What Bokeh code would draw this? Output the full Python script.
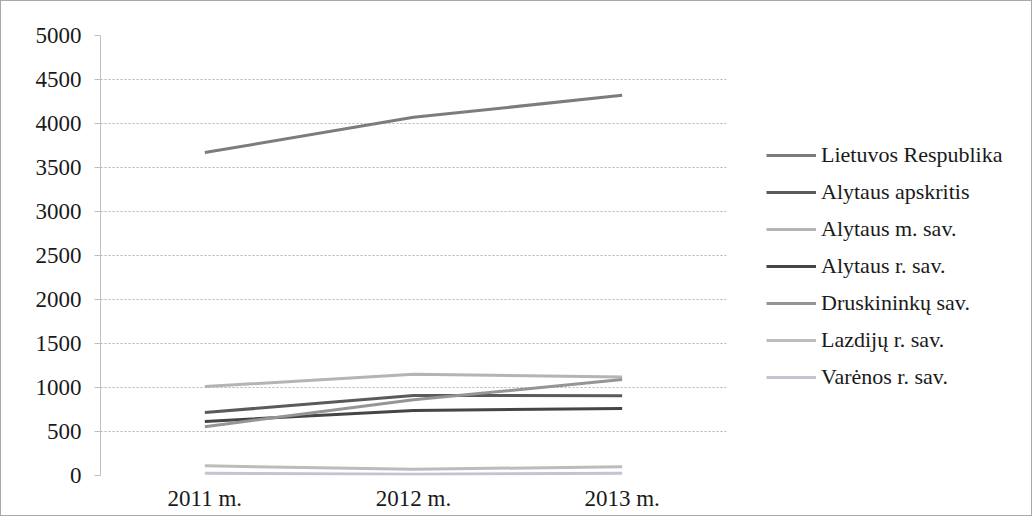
from bokeh.plotting import figure
from bokeh.layouts import row
from bokeh.models import Legend, LegendItem, FactorRange, Range1d, FixedTicker
from bokeh.embed import file_html
from bokeh.resources import INLINE

years = ["2011 m.", "2012 m.", "2013 m."]
series_names = [
    "Lietuvos Respublika",
    "Alytaus apskritis",
    "Alytaus m. sav.",
    "Alytaus r. sav.",
    "Druskininkų sav.",
    "Lazdijų r. sav.",
    "Varėnos r. sav.",
]
lietuvos = [3670, 4070, 4320]
alytaus_apskritis = [715, 910, 905]
alytaus_m = [1010, 1150, 1120]
alytaus_r = [615, 740, 760]
druskininku = [555, 860, 1090]
lazdiju = [110, 70, 100]
varenos = [25, 15, 25]
y_ticks = [0, 500, 1000, 1500, 2000, 2500, 3000, 3500, 4000, 4500, 5000]

values = [lietuvos, alytaus_apskritis, alytaus_m, alytaus_r, druskininku, lazdiju, varenos]
colors = ["#7c7c7c", "#5a5a5a", "#b4b4b4", "#454545", "#959595", "#bcbcbc", "#c4c3d6"]

FONT = "Liberation Serif"

p = figure(
    width=735, height=514,
    x_range=FactorRange(*years, range_padding=0),
    y_range=Range1d(0, 5000),
    output_backend="svg", toolbar_location=None,
    min_border_left=99, min_border_right=10, min_border_top=34, min_border_bottom=40,
)
p.outline_line_color = None
p.background_fill_color = "white"
p.border_fill_color = "white"

p.xgrid.grid_line_color = None
p.ygrid.grid_line_color = "#b0b0b0"
p.ygrid.grid_line_dash = "2 2"
p.ygrid.grid_line_width = 1

p.yaxis.ticker = FixedTicker(ticks=y_ticks)
p.yaxis.axis_line_color = "#c0c0c0"
p.yaxis.major_tick_line_color = "#c0c0c0"
p.yaxis.major_tick_out = 6
p.yaxis.major_tick_in = 0
p.yaxis.minor_tick_line_color = None
p.yaxis.major_label_text_font = FONT
p.yaxis.major_label_text_font_size = "23px"
p.yaxis.major_label_text_color = "#1a1a1a"
p.yaxis.major_label_standoff = 13

p.xaxis.axis_line_color = None
p.xaxis.major_tick_line_color = None
p.xaxis.minor_tick_line_color = None
p.xaxis.major_label_text_font = FONT
p.xaxis.major_label_text_font_size = "23px"
p.xaxis.major_label_text_color = "#1a1a1a"
p.xaxis.major_label_standoff = 4

for vals, col in zip(values, colors):
    p.line(years, vals, line_color=col, line_width=3)

# legend panel: same series, kept out of view, only used for the legend keys
q = figure(
    width=295, height=514,
    x_range=FactorRange(*years), y_range=Range1d(-20000, -10000),
    output_backend="svg", toolbar_location=None,
    x_axis_location=None, y_axis_location=None,
    min_border_left=0, min_border_right=0, min_border_top=0, min_border_bottom=0,
)
q.grid.grid_line_color = None
q.outline_line_color = None
q.background_fill_color = "white"
q.border_fill_color = "white"

items = []
for name, vals, col in zip(series_names, values, colors):
    r = q.line(years, vals, line_color=col, line_width=3)
    items.append(LegendItem(label=name, renderers=[r]))

legend = Legend(
    items=items,
    location=(30, 85),
    glyph_width=50, glyph_height=22, label_height=22,
    label_standoff=5, spacing=11, padding=0, margin=0,
    border_line_color=None, background_fill_alpha=0,
    label_text_font=FONT, label_text_font_size="22px",
    label_text_color="#1a1a1a",
)
q.add_layout(legend, "center")

lay = row(p, q, spacing=0,
          styles={"border": "1px solid #a8a8a8", "background": "white"})

open("out.html", "w").write(file_html(lay, INLINE))
